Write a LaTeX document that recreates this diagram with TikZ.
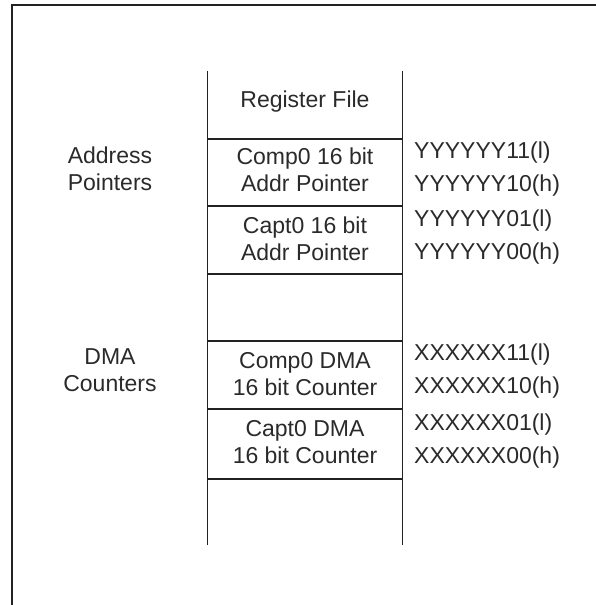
\documentclass[tikz,border=0pt]{standalone}
\usepackage{fontspec}
\setmainfont{Liberation Sans}
\definecolor{ink}{HTML}{222222}
\definecolor{txt}{HTML}{2A2A2A}
\begin{document}
\begin{tikzpicture}[x=1pt,y=-1pt,
  lbl/.style={inner sep=0pt,text=txt,font=\fontsize{23}{27}\selectfont,align=center},
  addr/.style={lbl,anchor=west},
  rule/.style={draw=ink,line width=2pt},
  side/.style={draw=ink,line width=1.6pt}]
\useasboundingbox (0,0) rectangle (596,605);
% frame
\coordinate (fbl) at (12,605);
\coordinate (ftl) at (12,4.5);
\coordinate (ftr) at (596,4.5);
\draw[draw=ink,line width=2pt] (fbl) -- (ftl) -- (ftr);
% column
\coordinate (lt) at (207.5,71);
\coordinate (lb) at (207.5,545);
\coordinate (rt) at (402.5,71);
\coordinate (rb) at (402.5,545);
\draw[side] (lt) -- (lb);
\draw[side] (rt) -- (rb);
\foreach \y/\n in {138.5/h1,206/h2,273.5/h3,341/h4,409/h5,479/h6}{
  \coordinate (\n l) at (207.5,\y);
  \coordinate (\n r) at (402.5,\y);
  \draw[rule] (\n l) -- (\n r);
}
% cell texts
\node[lbl] (rf) at (305,101.5) {Register File};
\node[lbl] (c1) at (305,170) {Comp0 16 bit\\Addr Pointer};
\node[lbl] (c2) at (305,238.5) {Capt0 16 bit\\Addr Pointer};
\node[lbl] (c3) at (305,374) {Comp0 DMA\\16 bit Counter};
\node[lbl] (c4) at (305,442) {Capt0 DMA\\16 bit Counter};
% left labels
\node[lbl] (ap) at (110,169) {Address\\Pointers};
\node[lbl] (dc) at (110,370) {DMA\\Counters};
% addresses
\node[addr] (a1) at (414,153) {YYYYYY11(l)};
\node[addr] (a2) at (414,186) {YYYYYY10(h)};
\node[addr] (a3) at (414,221) {YYYYYY01(l)};
\node[addr] (a4) at (414,254) {YYYYYY00(h)};
\node[addr] (b1) at (414,355) {XXXXXX11(l)};
\node[addr] (b2) at (414,388) {XXXXXX10(h)};
\node[addr] (b3) at (414,425) {XXXXXX01(l)};
\node[addr] (b4) at (414,458) {XXXXXX00(h)};
\end{tikzpicture}
\end{document}
